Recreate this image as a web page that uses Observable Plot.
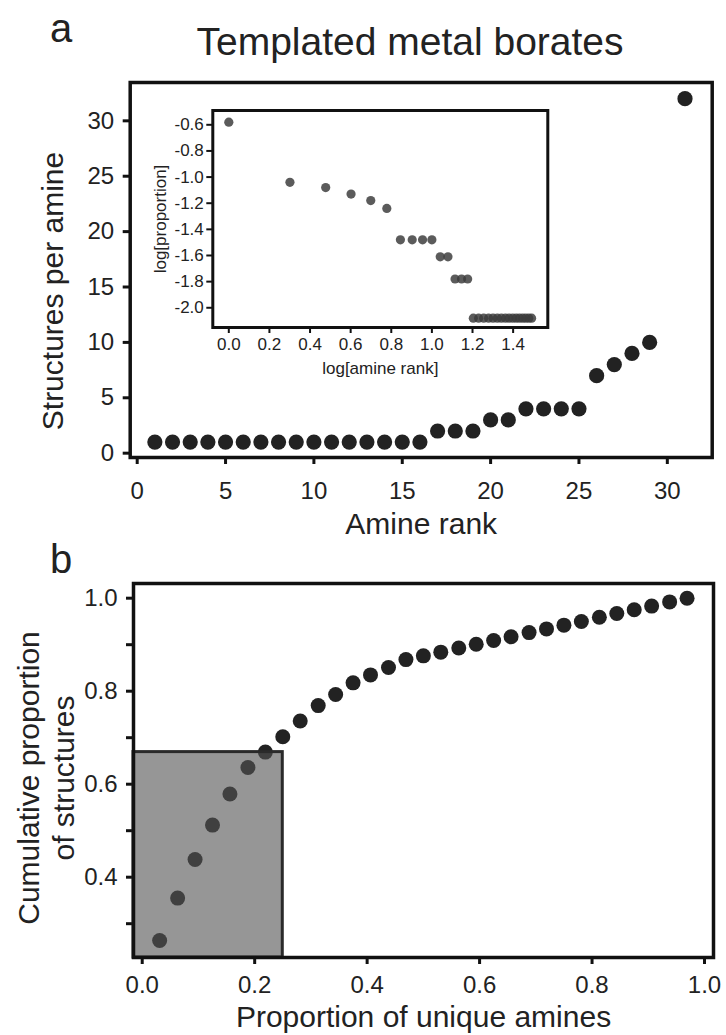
<!DOCTYPE html>
<html><head><meta charset="utf-8">
<script src="https://cdn.jsdelivr.net/npm/d3@7"></script>
<script src="https://cdn.jsdelivr.net/npm/@observablehq/plot@0.6"></script>
<style>
body{margin:0;background:#fff;}
#root{position:relative;width:726px;height:1035px;overflow:hidden;background:#fff;}
#root svg{position:absolute;overflow:visible;}
</style></head><body><div id="root"></div>
<script>
// ---- Panel a: structures per amine vs amine rank ----
const amineRank = [1,2,3,4,5,6,7,8,9,10,11,12,13,14,15,16,17,18,19,20,21,22,23,24,25,26,27,28,29,31];
const structuresPerAmine = [1,1,1,1,1,1,1,1,1,1,1,1,1,1,1,1,2,2,2,3,3,4,4,4,4,7,8,9,10,32];
const topXTicks = [0,5,10,15,20,25,30];
const topYTicks = [0,5,10,15,20,25,30];

// ---- Inset: log-log ----
const logAmineRank = [0.000,0.301,0.477,0.602,0.699,0.778,0.845,0.903,0.954,1.000,1.041,1.079,1.114,1.146,1.176,1.204,1.230,1.255,1.279,1.301,1.322,1.342,1.362,1.380,1.398,1.415,1.431,1.447,1.462,1.477,1.491];
const logProportion = [-0.58,-1.04,-1.08,-1.13,-1.18,-1.24,-1.48,-1.48,-1.48,-1.48,-1.61,-1.61,-1.78,-1.78,-1.78,-2.08,-2.08,-2.08,-2.08,-2.08,-2.08,-2.08,-2.08,-2.08,-2.08,-2.08,-2.08,-2.08,-2.08,-2.08,-2.08];
const insetXTicks = [0,0.2,0.4,0.6,0.8,1.0,1.2,1.4];
const insetYTicks = [-2.0,-1.8,-1.6,-1.4,-1.2,-1.0,-0.8,-0.6];

// ---- Panel b: cumulative proportion ----
const propUniqueAmines = [0.031,0.063,0.094,0.125,0.156,0.188,0.219,0.250,0.281,0.313,0.344,0.375,0.406,0.438,0.469,0.500,0.531,0.563,0.594,0.625,0.656,0.688,0.719,0.750,0.781,0.813,0.844,0.875,0.906,0.938,0.969];
const cumulativeProportion = [0.264,0.355,0.438,0.512,0.579,0.636,0.669,0.702,0.736,0.769,0.793,0.818,0.835,0.851,0.868,0.876,0.884,0.893,0.901,0.909,0.917,0.926,0.934,0.942,0.950,0.959,0.967,0.975,0.983,0.992,1.000];
const highlightBox = {x: 0.25, y: 0.669};
const bottomXTicks = [0,0.2,0.4,0.6,0.8,1.0];
const bottomYTicks = [0.3,0.4,0.5,0.6,0.7,0.8,0.9,1.0];
const bottomYTickLabels = ["","0.4","","0.6","","0.8","","1.0"];

const FONT = '"Liberation Sans", Arial, Helvetica, sans-serif';
const root = document.getElementById("root");
const fmt1 = d => d.toFixed(1);

function place(el, left, top) {
  el.style.left = left + "px";
  el.style.top = top + "px";
  root.appendChild(el);
}

// ---------- Top main plot ----------
const topData = amineRank.map((r, i) => ({rank: r, n: structuresPerAmine[i]}));
const topPlot = Plot.plot({
  width: 726, height: 480,
  marginLeft: 129.7, marginRight: 14.3, marginTop: 12, marginBottom: 93,
  style: {fontFamily: FONT, fontSize: "24px", color: "#222", background: "transparent", overflow: "visible"},
  x: {domain: [-0.396, 32.54]},
  y: {domain: [-0.39, 33.46]},
  marks: [
    Plot.axisX({ticks: topXTicks, tickSize: 7, tickPadding: 17, stroke: "#111", strokeWidth: 3, fill: "#222", label: null, fontSize: 24}),
    Plot.axisY({ticks: topYTicks, tickSize: 7, tickPadding: 9, stroke: "#111", strokeWidth: 3, fill: "#222", label: null, fontSize: 24}),
    Plot.dot(topData, {x: "rank", y: "n", r: 7.6, fill: "#222", stroke: "none"}),
    Plot.frame({stroke: "#111", strokeWidth: 3.5}),
    Plot.text(["Amine rank"], {text: d => d, frameAnchor: "bottom", dy: 76, lineAnchor: "bottom", fontSize: 30, fill: "#222"}),
    Plot.text(["Structures per amine"], {text: d => d, frameAnchor: "left", textAnchor: "middle", dx: -77, dy: 21, rotate: -90, lineAnchor: "middle", fontSize: 30, fill: "#222"})
  ]
});
place(topPlot, 0, 70);

// ---------- Inset ----------
const insetData = logAmineRank.map((x, i) => ({x, y: logProportion[i]}));
const insetPlot = Plot.plot({
  width: 410, height: 290,
  marginLeft: 62.3, marginRight: 12.7, marginTop: 15, marginBottom: 58,
  style: {fontFamily: FONT, fontSize: "17px", color: "#222", background: "transparent", overflow: "visible"},
  x: {domain: [-0.0788, 1.5707]},
  y: {domain: [-2.151, -0.4906]},
  marks: [
    Plot.frame({fill: "white", stroke: "none"}),
    Plot.axisX({ticks: insetXTicks, tickFormat: fmt1, tickSize: 6, tickPadding: 4, stroke: "#111", strokeWidth: 2, fill: "#222", label: null, fontSize: 17}),
    Plot.axisY({ticks: insetYTicks, tickFormat: fmt1, tickSize: 6, tickPadding: 3, stroke: "#111", strokeWidth: 2, fill: "#222", label: null, fontSize: 17}),
    Plot.dot(insetData, {x: "x", y: "y", r: 4.6, fill: "#3b3b3b", fillOpacity: 0.84, stroke: "none"}),
    Plot.frame({stroke: "#111", strokeWidth: 3}),
    Plot.text(["log[amine rank]"], {text: d => d, frameAnchor: "bottom", dy: 46, lineAnchor: "bottom", fontSize: 17, fill: "#222"}),
    Plot.text(["log[proportion]"], {text: d => d, frameAnchor: "left", textAnchor: "middle", dx: -52, rotate: -90, lineAnchor: "middle", fontSize: 17, fill: "#222"})
  ]
});
place(insetPlot, 150, 95);

// ---------- Bottom plot ----------
const botData = propUniqueAmines.map((x, i) => ({x, y: cumulativeProportion[i]}));
const bx = [-0.0155, 1.016], by = [0.2273, 1.0316];
const bottomPlot = Plot.plot({
  width: 726, height: 475,
  marginLeft: 133, marginRight: 13, marginTop: 23, marginBottom: 78,
  style: {fontFamily: FONT, fontSize: "24px", color: "#222", background: "transparent", overflow: "visible"},
  x: {domain: bx},
  y: {domain: by},
  marks: [
    Plot.axisX({ticks: bottomXTicks, tickFormat: fmt1, tickSize: 7, tickPadding: 11, stroke: "#111", strokeWidth: 3, fill: "#222", label: null, fontSize: 24}),
    Plot.axisY({ticks: bottomYTicks, tickFormat: d => bottomYTickLabels[bottomYTicks.findIndex(t => Math.abs(t - d) < 1e-9)], tickSize: 7, tickPadding: 9, stroke: "#111", strokeWidth: 3, fill: "#222", label: null, fontSize: 24}),
    Plot.dot(botData, {x: "x", y: "y", r: 7.5, fill: "#222", stroke: "none"}),
    Plot.rect([highlightBox], {x1: bx[0], x2: "x", y1: by[0], y2: "y", fill: "#535353", fillOpacity: 0.61, stroke: "#2a2a2a", strokeWidth: 3}),
    Plot.frame({stroke: "#111", strokeWidth: 3.5}),
    Plot.text(["Proportion of unique amines"], {text: d => d, frameAnchor: "bottom", dy: 69, lineAnchor: "bottom", fontSize: 30, fill: "#222"}),
    Plot.text(["Cumulative proportion\nof structures"], {text: d => d, frameAnchor: "left", textAnchor: "middle", dx: -88.5, dy: 7.5, rotate: -90, lineAnchor: "middle", lineHeight: 1.17, fontSize: 30, fill: "#222"})
  ]
});
place(bottomPlot, 0, 560);

// ---------- Panel letters and title ----------
const ov = d3.create("svg").attr("width", 726).attr("height", 1035)
  .style("font-family", FONT).style("pointer-events", "none");
ov.append("text").attr("x", 50).attr("y", 42).attr("font-size", 40).attr("fill", "#222").text("a");
ov.append("text").attr("x", 410).attr("y", 55).attr("font-size", 39).attr("text-anchor", "middle").attr("fill", "#222").text("Templated metal borates");
ov.append("text").attr("x", 50).attr("y", 573).attr("font-size", 40).attr("fill", "#222").text("b");
place(ov.node(), 0, 0);
</script></body></html>
